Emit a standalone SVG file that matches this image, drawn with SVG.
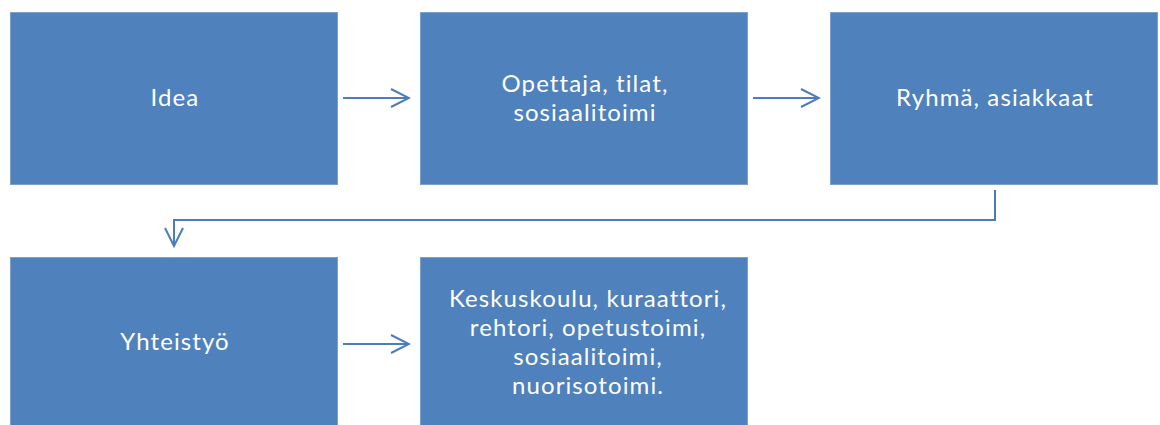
<svg xmlns="http://www.w3.org/2000/svg" width="1160" height="425" viewBox="0 0 1160 425">
<defs>
<style>
.box{fill:#4F81BD;stroke:#7BA0CD;stroke-width:1}
.lbl{font-family:Lato,"Open Sans","Liberation Sans",sans-serif;font-size:24px;letter-spacing:1.1px;fill:#FFFFFF;text-anchor:middle}
.con{fill:none;stroke:#4A7EBB;stroke-width:2}
</style>
<marker id="arr" markerUnits="userSpaceOnUse" markerWidth="24" markerHeight="24" viewBox="-22 -12 24 24" refX="0" refY="0" orient="auto">
<path d="M-18,-9 L0,0 L-18,9" fill="none" stroke="#4A7EBB" stroke-width="2"/>
</marker>
</defs>
<rect width="1160" height="425" fill="#FFFFFF"/>
<g id="node-idea">
<rect class="box" x="10.5" y="12.5" width="327" height="172"/>
<text class="lbl" x="175" y="106">Idea</text>
</g>
<g id="node-opettaja">
<rect class="box" x="420.5" y="12.5" width="327" height="172"/>
<text class="lbl" x="585" y="92">Opettaja, tilat,</text>
<text class="lbl" x="585" y="121">sosiaalitoimi</text>
</g>
<g id="node-ryhma">
<rect class="box" x="830.5" y="12.5" width="327" height="172"/>
<text class="lbl" x="995" y="106">Ryhmä, asiakkaat</text>
</g>
<g id="node-yhteistyo">
<rect class="box" x="10.5" y="257.5" width="327" height="172"/>
<text class="lbl" x="175" y="350">Yhteistyö</text>
</g>
<g id="node-keskuskoulu">
<rect class="box" x="420.5" y="257.5" width="327" height="172"/>
<text class="lbl" x="588" y="307">Keskuskoulu, kuraattori,</text>
<text class="lbl" x="588" y="336">rehtori, opetustoimi,</text>
<text class="lbl" x="588" y="365">sosiaalitoimi,</text>
<text class="lbl" x="588" y="394">nuorisotoimi.</text>
</g>
<g id="connectors">
<line class="con" x1="343" y1="98" x2="409" y2="98" marker-end="url(#arr)"/>
<line class="con" x1="753" y1="98" x2="819" y2="98" marker-end="url(#arr)"/>
<polyline class="con" points="995,190 995,220 174,220 174,246" marker-end="url(#arr)"/>
<line class="con" x1="343" y1="344" x2="409" y2="344" marker-end="url(#arr)"/>
</g>
</svg>
